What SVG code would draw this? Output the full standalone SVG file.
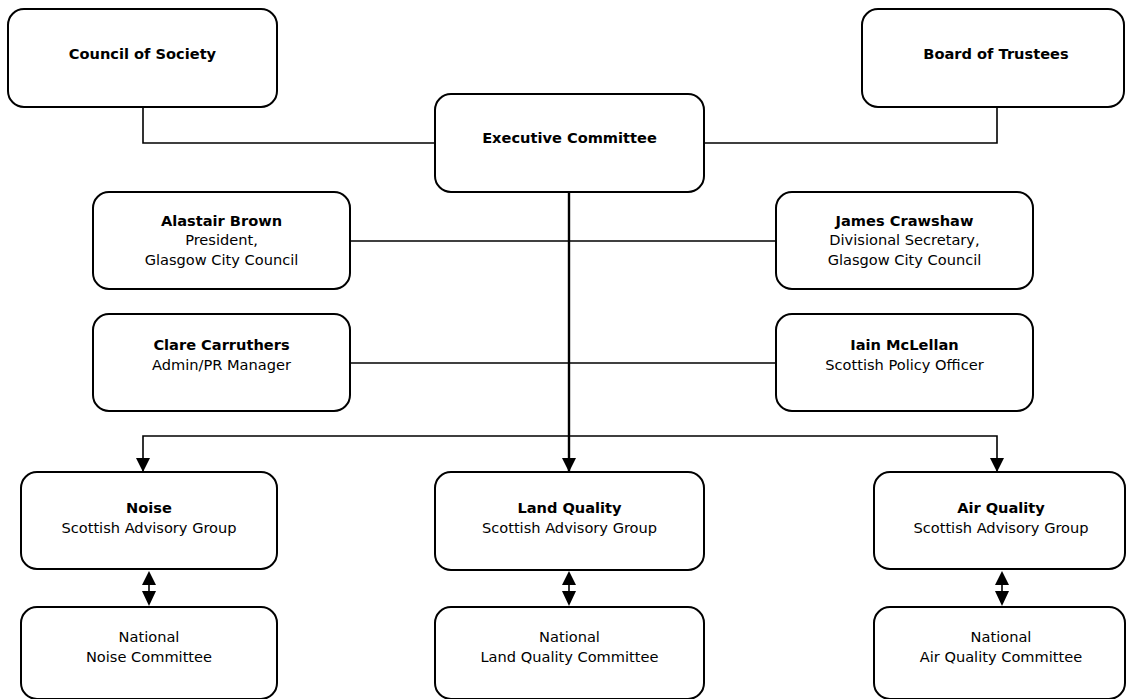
<svg xmlns="http://www.w3.org/2000/svg" width="1126" height="699" viewBox="0 0 1126 699">
<defs>
<style>
.box{fill:#fff;stroke:#000;stroke-width:2}
.ln{fill:none;stroke:#000;stroke-width:1.6}
.main{fill:none;stroke:#000;stroke-width:2.4}
text{font-family:"DejaVu Sans","Liberation Sans",sans-serif;font-size:14.6px;text-anchor:middle;fill:#000}
.b{font-weight:bold}
.ah{fill:#000;stroke:none}
</style>
<marker id="arr" viewBox="0 0 14 14" refX="14" refY="7" markerWidth="14" markerHeight="14" markerUnits="userSpaceOnUse" orient="auto">
<path d="M0,0 L14,7 L0,14 Z" fill="#000"/>
</marker>
</defs>
<rect width="1126" height="699" fill="#fff"/>
<g id="connectors">
<path class="ln" d="M143,107 V143 H435"/>
<path class="ln" d="M997,107 V143 H704"/>
<path class="ln" d="M350,241 H776"/>
<path class="ln" d="M350,363 H776"/>
<path class="main" d="M569,192 V472" marker-end="url(#arr)"/>
<path class="ln" d="M569,436 H143 V472" marker-end="url(#arr)"/>
<path class="ln" d="M569,436 H997 V472" marker-end="url(#arr)"/>
<g id="dbl-noise">
<path class="ln" d="M149,580 V596"/>
<path class="ah" d="M149,571 L156,585 L142,585 Z"/>
<path class="ah" d="M149,606 L156,591 L142,591 Z"/>
</g>
<g id="dbl-land">
<path class="ln" d="M569,580 V596"/>
<path class="ah" d="M569,571 L576,585 L562,585 Z"/>
<path class="ah" d="M569,606 L576,591 L562,591 Z"/>
</g>
<g id="dbl-air">
<path class="ln" d="M1002,580 V596"/>
<path class="ah" d="M1002,571 L1009,585 L995,585 Z"/>
<path class="ah" d="M1002,606 L1009,591 L995,591 Z"/>
</g>
</g>
<g id="council">
<rect class="box" x="8" y="9" width="269" height="98" rx="16"/>
<text class="b" x="142.5" y="59">Council of Society</text>
</g>
<g id="board">
<rect class="box" x="862" y="9" width="262" height="98" rx="16"/>
<text class="b" x="996" y="59">Board of Trustees</text>
</g>
<g id="exec">
<rect class="box" x="435" y="94" width="269" height="98" rx="16"/>
<text class="b" x="569.5" y="143">Executive Committee</text>
</g>
<g id="alastair">
<rect class="box" x="93" y="192" width="257" height="97" rx="16"/>
<text class="b" x="221.5" y="226">Alastair Brown</text>
<text x="221.5" y="245">President,</text>
<text x="221.5" y="265">Glasgow City Council</text>
</g>
<g id="james">
<rect class="box" x="776" y="192" width="257" height="97" rx="16"/>
<text class="b" x="904.5" y="226">James Crawshaw</text>
<text x="904.5" y="245">Divisional Secretary,</text>
<text x="904.5" y="265">Glasgow City Council</text>
</g>
<g id="clare">
<rect class="box" x="93" y="314" width="257" height="97" rx="16"/>
<text class="b" x="221.5" y="350">Clare Carruthers</text>
<text x="221.5" y="370">Admin/PR Manager</text>
</g>
<g id="iain">
<rect class="box" x="776" y="314" width="257" height="97" rx="16"/>
<text class="b" x="904.5" y="350">Iain McLellan</text>
<text x="904.5" y="370">Scottish Policy Officer</text>
</g>
<g id="noise">
<rect class="box" x="21" y="472" width="256" height="97" rx="16"/>
<text class="b" x="149" y="513">Noise</text>
<text x="149" y="533">Scottish Advisory Group</text>
</g>
<g id="land">
<rect class="box" x="435" y="472" width="269" height="98" rx="16"/>
<text class="b" x="569.5" y="513">Land Quality</text>
<text x="569.5" y="533">Scottish Advisory Group</text>
</g>
<g id="air">
<rect class="box" x="874" y="472" width="251" height="97" rx="16"/>
<text class="b" x="1001" y="513">Air Quality</text>
<text x="1001" y="533">Scottish Advisory Group</text>
</g>
<g id="nat-noise">
<rect class="box" x="21" y="607" width="256" height="92" rx="16"/>
<text x="149" y="642">National</text>
<text x="149" y="662">Noise Committee</text>
</g>
<g id="nat-land">
<rect class="box" x="435" y="607" width="269" height="92" rx="16"/>
<text x="569.5" y="642">National</text>
<text x="569.5" y="662">Land Quality Committee</text>
</g>
<g id="nat-air">
<rect class="box" x="874" y="607" width="251" height="92" rx="16"/>
<text x="1001" y="642">National</text>
<text x="1001" y="662">Air Quality Committee</text>
</g>
</svg>
